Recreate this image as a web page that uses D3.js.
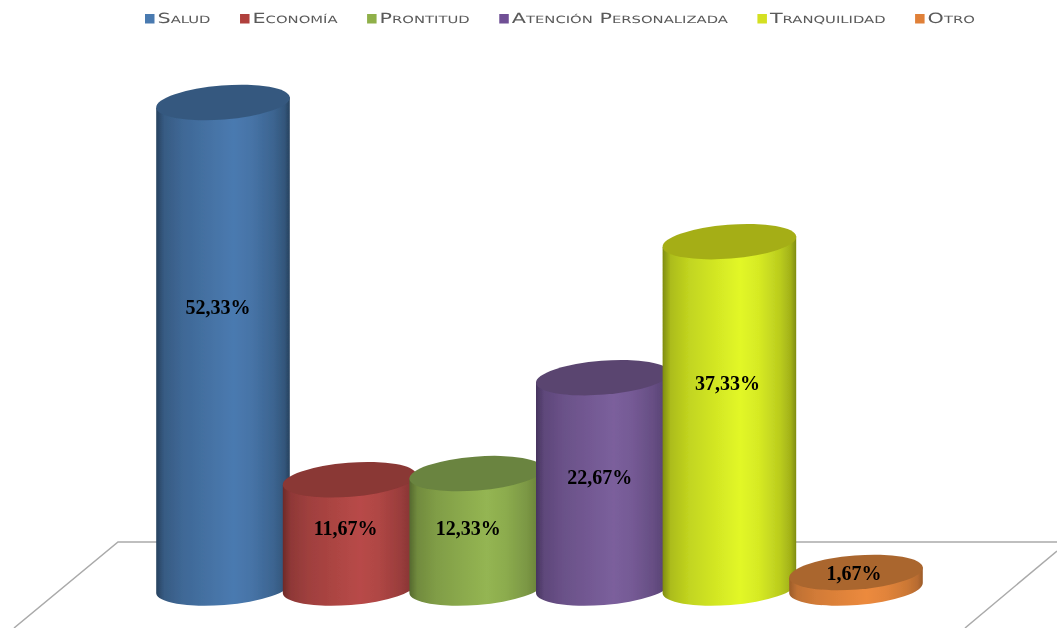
<!DOCTYPE html>
<html>
<head>
<meta charset="utf-8">
<script src="https://d3js.org/d3.v7.min.js"></script>
<style>
  body { margin: 0; background: #fff; }
  svg { display: block; }
  .legend text { font-family: "DejaVu Sans", sans-serif; font-variant: small-caps; font-size: 14px; fill: #5a5a5a; text-rendering: geometricPrecision; }
  .pct { font-family: "Liberation Serif", serif; font-weight: bold; font-size: 20px; fill: #000; text-anchor: middle; }
</style>
</head>
<body>
<div id="chart"></div>
<script>
const categories = ["Salud", "Economía", "Prontitud", "Atención Personalizada", "Tranquilidad", "Otro"]
const values = [52.33, 11.67, 12.33, 22.67, 37.33, 1.67]
const lightColors = ["#4a7ab0", "#b84a48", "#94b552", "#7b5f9c", "#e2f727", "#ec8a3d"]
const darkColors = ["#27425f", "#6e2a29", "#55692e", "#46345e", "#7f8c10", "#9c5c2a"]
const topColors = ["#35597f", "#8a3735", "#6a8440", "#5a4570", "#a5ae18", "#aa662f"]
const legendColors = ["#4a7ab0", "#b0403d", "#8fb04a", "#6f4f95", "#d4e020", "#e08038"]
// labels do not sit exactly mid-bar in the original
const labelNudge = [[-5, -38], [-4, -6], [-8, -3], [-3, -6], [-2, -32], [-2, -7]]

let width = 1057,
    height = 628,
    rx = 67,
    ry = 17,
    tilt = -4.5,
    baseY = 588,
    topY = 102.5,
    legendStretch = 1.48

let svg = d3.select("#chart").append("svg")
  .attr("width", width)
  .attr("height", height)

let x = d3.scalePoint()
  .domain(categories)
  .range([223, 856])

let y = d3.scaleLinear()
  .domain([0, d3.max(values)])
  .range([baseY, topY])

let defs = svg.append("defs")

defs.append("filter")
  .attr("id", "soft")
  .attr("x", "-5%").attr("y", "-5%")
  .attr("width", "110%").attr("height", "110%")
  .append("feGaussianBlur")
  .attr("stdDeviation", 0.5)

// one horizontal gradient per bar, dark at the edges
categories.forEach((c, i) => {
  let grad = defs.append("linearGradient")
    .attr("id", "body" + i)
    .attr("x1", 0).attr("x2", 1).attr("y1", 0).attr("y2", 0)
  let mix = d3.interpolateRgb(darkColors[i], lightColors[i])
  let stops = [[0, 0], [0.06, 0.45], [0.2, 0.68], [0.4, 0.85], [0.58, 1], [0.72, 0.88], [0.88, 0.6], [0.96, 0.35], [1, 0]]
  stops.forEach(s => {
    grad.append("stop").attr("offset", s[0]).attr("stop-color", mix(s[1]))
  })
})

// floor outline behind the bars
let floorTop = 542
let floorLine = d3.line()
svg.append("path")
  .attr("d", floorLine([[14, height], [118, floorTop], [width, floorTop]]))
  .attr("fill", "none")
  .attr("stroke", "#aaaaaa")
  .attr("stroke-width", 1.5)
svg.append("path")
  .attr("d", floorLine([[width, 551], [965, height]]))
  .attr("fill", "none")
  .attr("stroke", "#aaaaaa")
  .attr("stroke-width", 1.5)

let dx = rx * Math.cos(tilt * Math.PI / 180),
    dy = rx * Math.sin(tilt * Math.PI / 180)

let bars = svg.append("g")
  .attr("filter", "url(#soft)")
  .selectAll("g")
  .data(categories)
  .enter().append("g")

bars.append("path")
  .attr("fill", (d, i) => "url(#body" + i + ")")
  .attr("d", (d, i) => {
    let cx = x(d), t = y(values[i])
    return "M" + (cx - dx) + "," + (t - dy)
      + "L" + (cx - dx) + "," + (baseY - dy)
      + "A" + rx + "," + ry + " " + tilt + " 0 0 " + (cx + dx) + "," + (baseY + dy)
      + "L" + (cx + dx) + "," + (t + dy)
      + "Z"
  })

bars.append("ellipse")
  .attr("rx", rx)
  .attr("ry", ry)
  .attr("fill", (d, i) => topColors[i])
  .attr("transform", (d, i) => "translate(" + x(d) + "," + y(values[i]) + ") rotate(" + tilt + ")")

bars.append("text")
  .attr("class", "pct")
  .attr("x", (d, i) => x(d) + labelNudge[i][0])
  .attr("y", (d, i) => (y(values[i]) + baseY) / 2 + labelNudge[i][1] + 7)
  .text((d, i) => values[i].toFixed(2).replace(".", ",") + "%")

// legend, laid out from the measured text widths
let legend = svg.append("g")
  .attr("class", "legend")
  .attr("filter", "url(#soft)")

let legendX = 145
categories.forEach((c, i) => {
  legend.append("rect")
    .attr("x", legendX).attr("y", 14)
    .attr("width", 9.5).attr("height", 9.5)
    .attr("fill", legendColors[i])
  let label = legend.append("text")
    .attr("transform", "translate(" + (legendX + 12.5) + ",23) scale(" + legendStretch + ",1)")
    .text(c)
  legendX += 12.5 + label.node().getComputedTextLength() * legendStretch + 29.5
})
</script>
</body>
</html>
